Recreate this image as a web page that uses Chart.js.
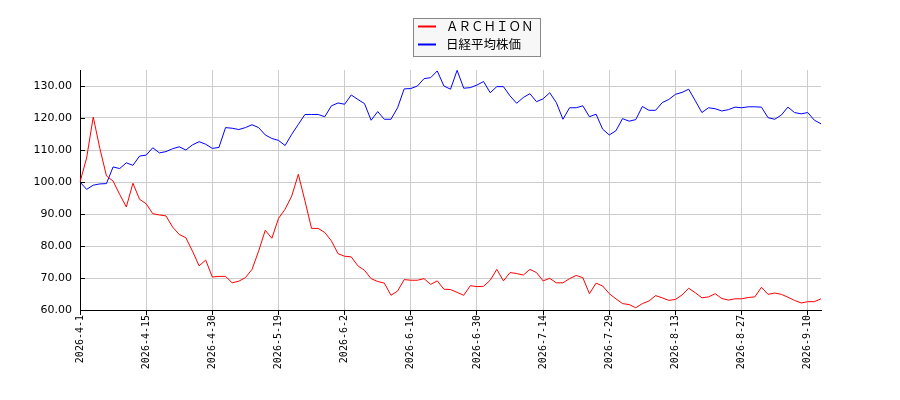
<!DOCTYPE html>
<html><head><meta charset="utf-8">
<script src="https://cdn.jsdelivr.net/npm/chart.js@4/dist/chart.umd.min.js"></script>
<style>html,body{margin:0;padding:0;background:#fff}#wrap{width:900px;height:400px}</style>
</head><body><div id="wrap"><canvas id="c" width="900" height="400"></canvas></div>
<script>
const labels = [
'2026-4-1','2026-4-2','2026-4-3','2026-4-6','2026-4-7','2026-4-8','2026-4-9','2026-4-10','2026-4-13','2026-4-14',
'2026-4-15','2026-4-16','2026-4-17','2026-4-20','2026-4-21','2026-4-22','2026-4-23','2026-4-24','2026-4-27','2026-4-28',
'2026-4-30','2026-5-1','2026-5-7','2026-5-8','2026-5-11','2026-5-12','2026-5-13','2026-5-14','2026-5-15','2026-5-18',
'2026-5-19','2026-5-20','2026-5-21','2026-5-22','2026-5-25','2026-5-26','2026-5-27','2026-5-28','2026-5-29','2026-6-1',
'2026-6-2','2026-6-3','2026-6-4','2026-6-5','2026-6-8','2026-6-9','2026-6-10','2026-6-11','2026-6-12','2026-6-15',
'2026-6-16','2026-6-17','2026-6-18','2026-6-19','2026-6-22','2026-6-23','2026-6-24','2026-6-25','2026-6-26','2026-6-29',
'2026-6-30','2026-7-1','2026-7-2','2026-7-3','2026-7-6','2026-7-7','2026-7-8','2026-7-9','2026-7-10','2026-7-13',
'2026-7-14','2026-7-15','2026-7-16','2026-7-17','2026-7-21','2026-7-22','2026-7-23','2026-7-24','2026-7-27','2026-7-28',
'2026-7-29','2026-7-30','2026-7-31','2026-8-3','2026-8-4','2026-8-5','2026-8-6','2026-8-7','2026-8-10','2026-8-12',
'2026-8-13','2026-8-14','2026-8-17','2026-8-18','2026-8-19','2026-8-20','2026-8-21','2026-8-24','2026-8-25','2026-8-26',
'2026-8-27','2026-8-28','2026-8-31','2026-9-1','2026-9-2','2026-9-3','2026-9-4','2026-9-7','2026-9-8','2026-9-9',
'2026-9-10','2026-9-11','2026-9-14'];

const archion = [
100,107.5,120.3,110.5,101.9,100.3,96.1,92.2,99.6,94.6,
93.2,90.1,89.7,89.4,85.9,83.6,82.6,78.4,73.8,75.6,
70.3,70.5,70.5,68.5,69,70.1,72.7,78.4,84.9,82.4,
88.6,91.5,95.6,102.4,94.1,85.5,85.5,84.2,81.6,77.6,
76.8,76.6,73.8,72.4,69.8,68.9,68.4,64.6,65.9,69.5,
69.3,69.3,69.8,68,69.1,66.5,66.4,65.5,64.6,67.6,
67.3,67.4,69.3,72.7,69.1,71.7,71.4,70.9,72.7,71.7,
69.1,69.9,68.5,68.5,69.8,70.8,70.1,65.1,68.4,67.5,
65.1,63.5,62,61.7,60.7,62,62.8,64.5,63.8,63,
63.3,64.7,66.8,65.4,63.8,64.1,65.1,63.6,63.1,63.5,
63.5,63.9,64.1,67.1,64.9,65.3,64.9,64,63,62.2,
62.6,62.6,63.5];

const nikkei = [
100,97.7,99,99.4,99.5,104.7,104.2,106,105.2,108.1,
108.4,110.7,109.1,109.5,110.4,111,110,111.6,112.6,111.8,
110.5,110.8,117,116.8,116.4,117,117.9,117,114.7,113.6,
113,111.4,114.9,118,121.1,121.1,121.1,120.4,123.8,124.7,
124.3,127.2,125.8,124.5,119.3,122,119.6,119.6,123.2,129.1,
129.2,130,132.3,132.6,134.7,130,129,134.9,129.3,129.5,
130.3,131.4,127.9,129.8,129.8,126.9,124.6,126.4,127.6,125.1,
126,127.9,124.8,119.6,123.2,123.2,123.8,120.4,121.2,116.5,
114.7,116,119.8,119,119.5,123.6,122.4,122.4,124.8,125.8,
127.4,128,129,125.4,121.7,123.2,122.9,122.2,122.6,123.4,
123.2,123.5,123.5,123.4,120.1,119.6,120.9,123.4,121.7,121.3,
121.7,119.3,118.2];

const seriesNames = ['ＡＲＣＨＩＯＮ','日経平均株価'];
const seriesColors = ['#ff0000','#0000ff'];
const yTicks = [60,70,80,90,100,110,120,130];
const tickEvery = 10;

const customPlugin = {
  id: 'custom',
  afterDraw(chart) {
    const ctx = chart.ctx;
    const y = chart.scales.y, a = chart.chartArea;
    ctx.save();
    ctx.strokeStyle = '#000';
    ctx.lineWidth = 1;
    y.ticks.forEach(t => {
      const py = Math.round(y.getPixelForValue(t.value)) + 0.5;
      ctx.beginPath(); ctx.moveTo(a.left, py); ctx.lineTo(a.left + 5, py); ctx.stroke();
    });
    // legend
    const bx = 413.5, by = 18.5, bw = 127, bh = 38;
    ctx.fillStyle = '#f7f7f7';
    ctx.fillRect(bx, by, bw, bh);
    ctx.strokeStyle = '#888';
    ctx.strokeRect(bx, by, bw, bh);
    ctx.font = '12.5px "Noto Sans CJK JP", "DejaVu Sans", sans-serif';
    ctx.textBaseline = 'middle';
    chart.data.datasets.forEach((ds, i) => {
      const ly = by + 8 + i * 18;
      ctx.strokeStyle = ds.borderColor;
      ctx.lineWidth = 2;
      ctx.beginPath(); ctx.moveTo(418, ly); ctx.lineTo(436, ly); ctx.stroke();
      ctx.fillStyle = '#000';
      ctx.fillText(ds.label, 446, ly);
    });
    ctx.restore();
  }
};

new Chart(document.getElementById('c'), {
  type: 'line',
  data: {
    labels: labels,
    datasets: [
      {label: seriesNames[0], data: archion, borderColor: seriesColors[0], backgroundColor: seriesColors[0], borderWidth: 1, pointRadius: 0, tension: 0, fill: false},
      {label: seriesNames[1], data: nikkei, borderColor: seriesColors[1], backgroundColor: seriesColors[1], borderWidth: 1, pointRadius: 0, tension: 0, fill: false}
    ]
  },
  options: {
    responsive: false,
    animation: false,
    devicePixelRatio: 1,
    layout: {padding: {top: 70, right: 79, bottom: 0, left: 0}},
    plugins: {legend: {display: false}, tooltip: {enabled: false}},
    scales: {
      x: {
        type: 'category',
        offset: false,
        afterBuildTicks(scale) { scale.ticks = scale.ticks.filter((t, i) => i % tickEvery === 0); },
        afterFit(scale) { scale.height = 90; },
        grid: {color: '#cccccc', tickColor: '#000', tickLength: 5, drawTicks: true},
        border: {color: '#000', width: 1},
        ticks: {autoSkip: false, maxRotation: 90, minRotation: 90, padding: 0, color: '#000',
          font: {family: '"DejaVu Sans Mono", monospace', size: 10}}
      },
      y: {
        min: 60, max: 135,
        afterBuildTicks(scale) { scale.ticks = yTicks.map(v => ({value: v})); },
        afterFit(scale) { scale.width = 80; },
        grid: {color: '#cccccc', drawTicks: false},
        border: {color: '#000', width: 1},
        ticks: {padding: 8, color: '#000', font: {family: '"DejaVu Sans", sans-serif', size: 11},
          callback: v => Number(v).toFixed(2)}
      }
    }
  },
  plugins: [customPlugin]
});
</script>
</body></html>
